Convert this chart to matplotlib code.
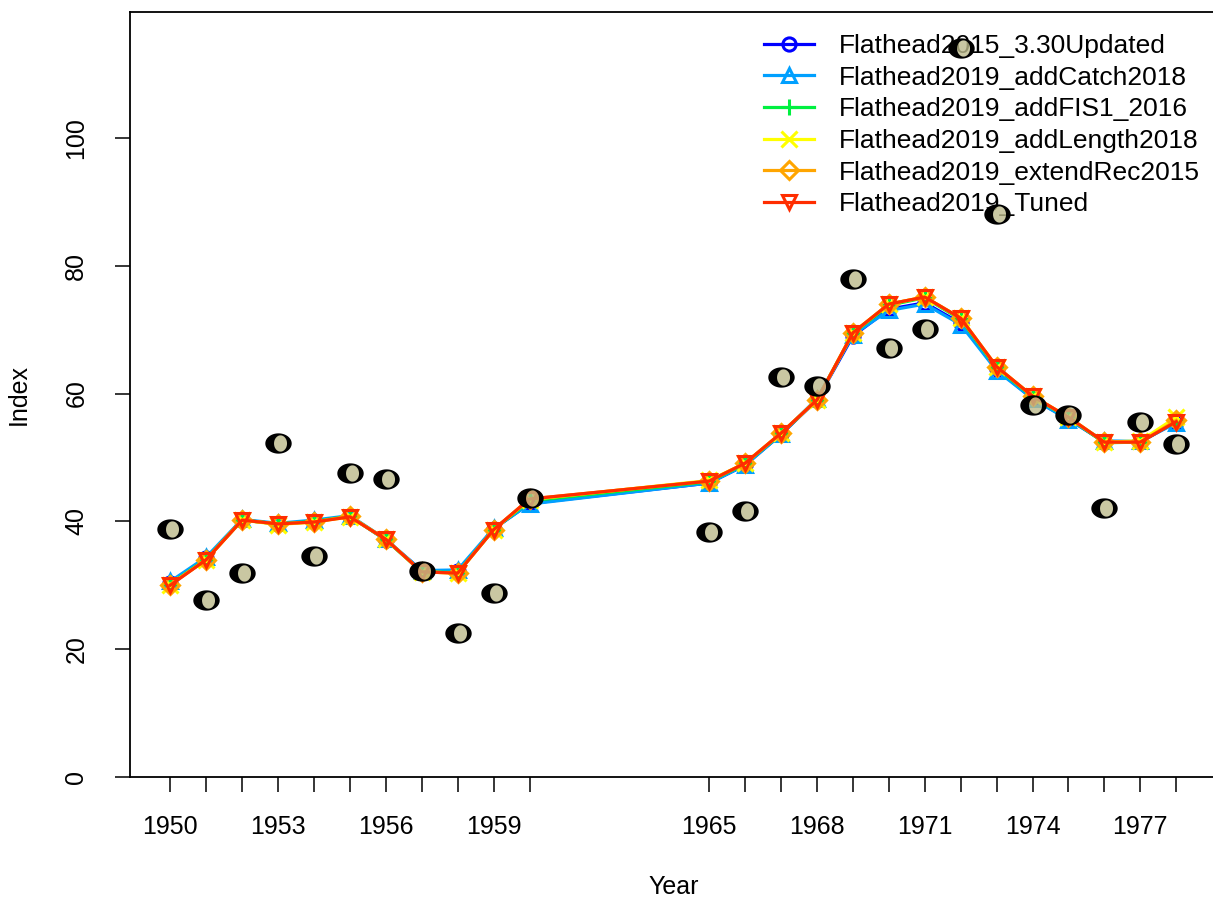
import numpy as np
import matplotlib
matplotlib.use("Agg")
import matplotlib.pyplot as plt
from matplotlib.path import Path

plt.rcParams['font.family'] = ['Liberation Sans', 'DejaVu Sans']

years = [1950, 1951, 1952, 1953, 1954, 1955, 1956, 1957, 1958, 1959, 1960,
         1965, 1966, 1967, 1968, 1969, 1970, 1971, 1972, 1973, 1974, 1975,
         1976, 1977, 1978]

observed = [38.8, 27.7, 31.9, 52.3, 34.6, 47.6, 46.6, 32.2, 22.5, 28.8, 43.7,
            38.3, 41.6, 62.6, 61.2, 77.9, 67.1, 70.1, 114.1, 88.1, 58.2, 56.7,
            42.1, 55.6, 52.1]

model_names = ["Flathead2015_3.30Updated", "Flathead2019_addCatch2018",
               "Flathead2019_addFIS1_2016", "Flathead2019_addLength2018",
               "Flathead2019_extendRec2015", "Flathead2019_Tuned"]

updated = [30.4, 34.2, 40.2, 39.6, 40.0, 40.8, 37.1, 32.3, 32.2, 38.8, 42.8,
           46.0, 48.8, 53.6, 59.0, 69.0, 73.2, 74.2, 71.0, 63.8, 59.2, 56.0,
           52.4, 52.4, 55.6]
addcatch = [30.6, 34.4, 40.3, 39.7, 40.2, 40.9, 37.2, 32.3, 32.4, 38.9, 42.7,
            46.0, 48.8, 53.6, 59.2, 69.2, 73.0, 74.0, 70.8, 63.6, 59.2, 55.9,
            52.6, 52.5, 55.4]
addfis = [30.2, 34.1, 40.2, 39.6, 40.0, 40.8, 37.1, 32.1, 32.0, 38.7, 43.2,
          46.2, 49.0, 53.7, 59.0, 69.4, 73.8, 75.0, 71.6, 64.0, 59.5, 56.2,
          52.3, 52.4, 55.8]
addlength = [30.1, 34.0, 40.2, 39.5, 39.9, 40.7, 37.2, 32.1, 31.9, 38.7, 43.4,
             46.4, 49.1, 53.8, 59.0, 69.5, 74.0, 75.1, 71.8, 64.2, 59.6, 56.3,
             52.4, 52.6, 56.3]
extendrec = [30.1, 34.0, 40.2, 39.6, 39.9, 40.8, 37.2, 32.1, 31.9, 38.7, 43.5,
             46.3, 49.1, 53.8, 59.0, 69.5, 74.0, 75.1, 71.8, 64.2, 59.6, 56.3,
             52.4, 52.4, 55.8]
tuned = [30.0, 34.0, 40.2, 39.6, 39.9, 40.7, 37.2, 32.1, 31.9, 38.7, 43.5,
         46.3, 49.1, 53.8, 59.0, 69.5, 74.0, 75.1, 71.8, 64.2, 59.6, 56.3,
         52.4, 52.4, 55.6]

model_values = [updated, addcatch, addfis, addlength, extendrec, tuned]
model_colors = ["#0000FF", "#00A0FF", "#00F040", "#FFFF00", "#FFA500", "#FF2D00"]
model_markers = ["o", "^", "+", "x", "D", "v"]

xtick_labels = ["1950", "", "", "1953", "", "", "1956", "", "", "1959", "",
                "1965", "", "", "1968", "", "", "1971", "", "", "1974", "",
                "", "1977", ""]

yticks = [0, 20, 40, 60, 80, 100]

W, H = 1213, 901
fig = plt.figure(figsize=(W / 100, H / 100), dpi=100)
ax = fig.add_axes([130 / W, 1 - 777 / H, (1216.5 - 130) / W, (777 - 12) / H])

for name, vals, col, mk in zip(model_names, model_values, model_colors, model_markers):
    ax.plot(years, vals, color=col, lw=2.3, marker=mk,
            markersize=9.5 if mk not in ('+', 'x') else 11.5,
            markerfacecolor='none', markeredgecolor=col, markeredgewidth=2.2,
            label=name, zorder=3)

# observed points: black elliptical ring with a beige, slightly see-through centre
t = np.linspace(0, 2 * np.pi, 72)
ox, oy = 1.3 * np.cos(t), np.sin(t)
cx, sx, sy = 0.2, 0.64, 0.8
ix, iy = cx + sx * np.cos(t[::-1]), sy * np.sin(t[::-1])
ring_verts = np.concatenate([np.column_stack([ox, oy]), np.column_stack([ix, iy])])
ring_codes = np.full(len(ring_verts), Path.LINETO)
ring_codes[0] = Path.MOVETO
ring_codes[len(t) - 1] = Path.CLOSEPOLY
ring_codes[len(t)] = Path.MOVETO
ring_codes[-1] = Path.CLOSEPOLY
ring = Path(ring_verts, ring_codes)
# centre ellipse, anchored with an invisible point so it shares the ring's scale
cvx = cx + (sx + 0.04) * np.cos(t)
cvy = (sy + 0.04) * np.sin(t)
centre_verts = np.concatenate([np.column_stack([cvx, cvy]), [[-1.3, 0.0], [-1.3, 0.0]]])
centre_codes = np.full(len(centre_verts), Path.LINETO)
centre_codes[0] = Path.MOVETO
centre_codes[len(t) - 1] = Path.CLOSEPOLY
centre_codes[len(t)] = Path.MOVETO
centre_codes[-1] = Path.MOVETO
centre = Path(centre_verts, centre_codes)

ax.plot(years, observed, linestyle='none', marker=centre, markersize=19,
        markerfacecolor='#bcba8b', markeredgewidth=0, alpha=0.8, zorder=6)
ax.plot(years, observed, linestyle='none', marker=ring, markersize=19,
        markerfacecolor='black', markeredgecolor='black', markeredgewidth=0, zorder=7)

ax.set_xlim(1948.88, 1979.12)
ax.set_ylim(0, 119.7)

ax.set_xticks(years)
ax.set_xticklabels(xtick_labels)
ax.set_yticks(yticks)
ax.set_yticklabels([str(v) for v in yticks], rotation=90, va='center')
ax.tick_params(axis='both', direction='out', length=11, width=1.1, labelsize=18, colors='black')
ax.tick_params(axis='x', pad=16)
ax.tick_params(axis='y', pad=19)
for s in ax.spines.values():
    s.set_linewidth(1.3)

ax.set_xlabel("Year", fontsize=18, labelpad=26)
ax.set_ylabel("Index", fontsize=18, labelpad=24)

leg = ax.legend(loc='upper left', bbox_to_anchor=(764 / W, 1 - 34 / H), bbox_transform=fig.transFigure,
                frameon=False, fontsize=19, handlelength=1.9, handletextpad=0.95,
                labelspacing=0.29, borderaxespad=0, borderpad=0)
leg.set_zorder(4)

fig.savefig("out.png", dpi=100)
